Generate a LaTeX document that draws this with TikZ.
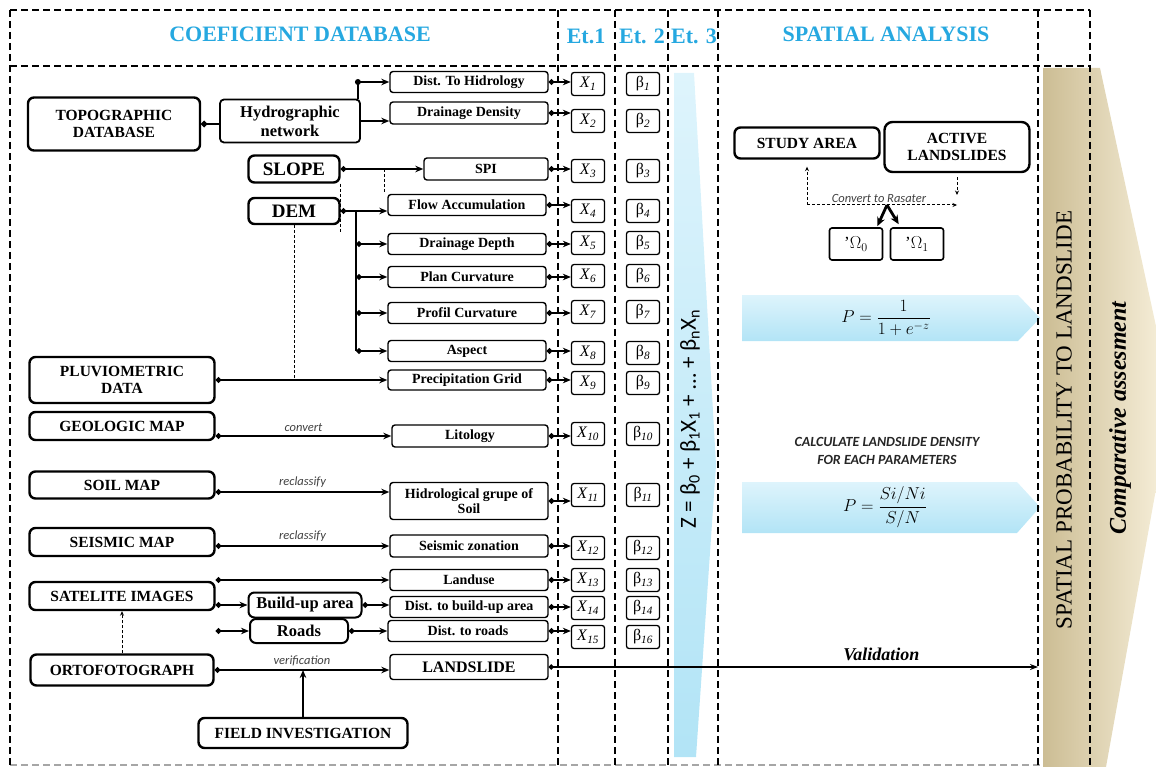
\documentclass[tikz,border=0pt]{standalone}
\usepackage{amsmath}
\usepackage{fontspec}
\setmainfont{Liberation Serif}
\setsansfont{Carlito}
\usepackage{tikz}
\usetikzlibrary{arrows.meta,calc}

\definecolor{headblue}{RGB}{38,168,224}
\definecolor{paleblue}{RGB}{222,244,252}
\definecolor{skyblue}{RGB}{178,228,246}
\definecolor{tandark}{RGB}{204,189,148}
\definecolor{tanlight}{RGB}{249,242,222}

\newcommand{\xv}[1]{\textit{X}\textsubscript{\textit{#1}}}
\newcommand{\bv}[1]{β\textsubscript{\textit{#1}}}

\begin{document}
\begin{tikzpicture}[x=1pt, y=-1pt,
  >={Stealth[length=8pt,width=6.5pt]},
  bigbox/.style={draw, line width=2.4pt, rounded corners=6pt, minimum width=185pt, minimum height=28pt, align=center, inner sep=1pt, font=\fontsize{15.5}{17}\selectfont\bfseries},
  midbox/.style={draw, line width=1.4pt, rounded corners=3pt, minimum width=158pt, minimum height=21pt, align=center, inner sep=1pt, font=\fontsize{14}{15}\selectfont\bfseries},
  varbox/.style={draw, line width=1.3pt, rounded corners=2.5pt, minimum width=33pt, minimum height=23pt, inner sep=0pt, font=\fontsize{16}{16}\selectfont},
  headtxt/.style={text=headblue, font=\fontsize{22}{24}\selectfont\bfseries},
  divline/.style={line width=2.2pt, dash pattern=on 7pt off 4pt},
  link/.style={line width=2pt, arrows={Circle[length=5.5pt]-Stealth[length=8pt,width=6.5pt]}},
  arrline/.style={line width=2pt, ->},
  dashlink/.style={line width=1pt, dash pattern=on 3pt off 2pt, >={Stealth[length=4.5pt,width=4pt]}},
  fatarrow/.style={line width=2.8pt, -{Stealth[length=9pt,width=8pt]}},
  notetxt/.style={font=\sffamily\itshape\fontsize{12.5}{13}\selectfont, text=black!75},
  junction/.style={circle, fill, inner sep=0pt, minimum size=6pt},
]
\useasboundingbox (0,0) rectangle (1156,767);

% background arrows
\begin{scope}
  \clip (0,0) rectangle (1156,767);
  \shade[left color=tandark, right color=tanlight] (1043,68) -- (1100,68) -- (1172,400) -- (1106,767) -- (1043,767) -- cycle;
\end{scope}
\shade[top color=paleblue, bottom color=skyblue] (674,73) -- (694,73) -- (716,465) -- (696,757) -- (674,757) -- cycle;
\shade[top color=paleblue, bottom color=skyblue] (742,295) -- (1018,295) -- (1040,318) -- (1018,341) -- (742,341) -- cycle;
\shade[top color=paleblue, bottom color=skyblue] (742,482) -- (1017,482) -- (1040,507) -- (1017,533) -- (742,533) -- cycle;

% frame
\draw[divline] (10,10) -- (1090,10);
\draw[divline] (10,66) -- (1090,66);
\draw[divline, black!35, line width=1.5pt] (10,765) -- (1040,765);
\foreach \x [count=\i] in {10,558,615,668,718,1038,1090}{
  \draw[divline] (\x,10) -- (\x,767);
  \coordinate (v\i) at (\x,66);
}

\node[headtxt] (hcoef) at (300,34) {COEFICIENT DATABASE};
\node[headtxt] (het1) at (586,36) {Et.1};
\node[headtxt] (het2) at (642,36) {Et. 2};
\node[headtxt] (het3) at (694,36) {Et. 3};
\node[headtxt] (hspat) at (886,34) {SPATIAL ANALYSIS};

% data sources
\node[bigbox, minimum width=172pt, minimum height=53pt] (topo) at (114,124) {TOPOGRAPHIC\\DATABASE};
\node[bigbox, line width=1.8pt, minimum width=140pt, minimum height=43pt, rounded corners=4pt, font=\fontsize{16.5}{19}\selectfont\bfseries] (hydro) at (290,121) {Hydrographic\\network};
\node[bigbox, minimum width=91pt, minimum height=27pt, font=\fontsize{19}{20}\selectfont\bfseries] (slope) at (294,169) {SLOPE};
\node[bigbox, minimum width=91pt, minimum height=26pt, font=\fontsize{19}{20}\selectfont\bfseries] (dem) at (294,211) {DEM};
\node[bigbox, minimum height=46pt] (pluv) at (122,380) {PLUVIOMETRIC\\DATA};
\node[bigbox] (geo) at (122,426) {GEOLOGIC MAP};
\node[bigbox, minimum height=27pt] (soil) at (122,485) {SOIL MAP};
\node[bigbox] (seism) at (122,542) {SEISMIC MAP};
\node[bigbox] (sat) at (122,596) {SATELITE IMAGES};
\node[bigbox, line width=2pt, minimum width=113pt, minimum height=25pt, font=\fontsize{16.5}{18}\selectfont\bfseries] (build) at (305,605) {Build-up area};
\node[bigbox, line width=2pt, minimum width=98pt, minimum height=24pt, font=\fontsize{16.5}{18}\selectfont\bfseries] (roads) at (299,631) {Roads};
\node[bigbox, minimum width=183pt, minimum height=31pt] (orto) at (122,670) {ORTOFOTOGRAPH};
\node[bigbox, minimum width=209pt, minimum height=30pt] (field) at (303,733) {FIELD INVESTIGATION};

% factor maps
\node[midbox] (dhid) at (469,82) {Dist. To Hidrology};
\node[midbox, minimum height=22pt] (ddens) at (469,113) {Drainage Density};
\node[midbox, minimum width=124pt, minimum height=22pt] (spi) at (486,169) {SPI};
\node[midbox] (flow) at (467,205) {Flow Accumulation};
\node[midbox] (ddep) at (467,244) {Drainage Depth};
\node[midbox] (plan) at (467,277) {Plan Curvature};
\node[midbox] (prof) at (467,313) {Profil Curvature};
\node[midbox] (asp) at (467,351) {Aspect};
\node[midbox, minimum height=20pt] (prec) at (467,380) {Precipitation Grid};
\node[midbox, minimum width=156pt, minimum height=22pt] (lito) at (470,436) {Litology};
\node[midbox, minimum height=37pt] (hgs) at (469,501) {Hidrological grupe of\\Soil};
\node[midbox, minimum height=22pt] (szon) at (469,546) {Seismic zonation};
\node[midbox] (luse) at (469,580) {Landuse};
\node[midbox] (dbuild) at (469,607) {Dist. to build-up area};
\node[midbox, minimum width=160pt] (droad) at (468,631) {Dist. to roads};
\node[midbox, minimum height=25pt, font=\fontsize{16}{17}\selectfont\bfseries] (lslide) at (469,667) {LANDSLIDE};

% variables and coefficients
\foreach \n/\lab/\y in {1/1/84,2/2/121,3/3/171,4/4/211,5/5/243,6/6/276,7/7/312,8/8/353,9/9/383,10/10/434,11/11/495,12/12/548,13/13/580,14/14/608,15/16/637}{
  \node[varbox] (x\n) at (588,\y) {\xv{\n}};
  \node[varbox] (b\n) at (643,\y) {\bv{\lab}};
}
\foreach \m/\n in {dhid/1,ddens/2,spi/3,flow/4,ddep/5,plan/6,prof/7,asp/8,prec/9,lito/10,hgs/11,szon/12,luse/13,dbuild/14,droad/15}
  \draw[link] (\m.east) -- (\m.east -| x\n.west);

% connectors on the left
\draw[line width=2.6pt, arrows={Circle[length=6pt]-}] (topo.east) -- (topo.east -| hydro.west);
\draw[arrline] ($(hydro.north east)+(-3,0)$) |- node[pos=0.5, junction]{} (dhid.west);
\draw[arrline] (hydro.east) -- (hydro.east -| ddens.west);
\draw[link] (slope.east) -- (slope.east -| spi.west);
\draw[dashlink] (slope.south east) -- (slope.south east |- ddep.north);
\draw[dashlink] ($(slope.east -| flow.north west)+(-3,0)$) -- ($(flow.north west)+(-3,0)$);
\draw[link] (dem.east) -- (dem.east -| flow.west);
\coordinate (bus) at ($(flow.west)+(-31,0)$);
\draw[line width=2pt] (bus |- dem.east) -- (bus |- asp.west);
\foreach \m in {ddep,plan,prof,asp}
  \draw[link] (bus |- \m.west) -- (\m.west);
\draw[dashlink] (dem.south) -- (dem.south |- prec.west);
\draw[link] (pluv.east) -- (pluv.east -| prec.west);
\draw[link] (lito.west -| geo.east) -- node[notetxt, above]{convert} (lito.west);
\draw[link] ($(soil.east)+(0,7)$) coordinate (soilout) -- node[notetxt, above]{reclassify} (soilout -| hgs.west);
\draw[link] (szon.west -| seism.east) -- node[notetxt, above]{reclassify} (szon.west);
\draw[link] (luse.west -| sat.east) -- (luse.west);
\draw[link] (build.west -| sat.east) -- (build.west);
\draw[link] (roads.west -| sat.east) -- (roads.west);
\draw[link] (build.east) -- (build.east -| dbuild.west);
\draw[link] (roads.east) -- (roads.east -| droad.west);
\draw[dashlink, ->] (orto.north) -- (sat.south);
\draw[link] (orto.east) -- node[notetxt, above]{verification} (orto.east -| lslide.west);
\draw[arrline, line width=2.6pt] (field.north) -- (field.north |- orto.east);
\draw[line width=1.6pt, arrows={Circle[length=5pt]-Stealth[length=8pt,width=6pt]}] (lslide.east) -- node[pos=0.68, above=2pt, font=\bfseries\itshape\fontsize{18}{20}\selectfont]{Validation} (lslide.east -| v6);

% spatial analysis
\node[bigbox, minimum width=145pt, minimum height=31pt] (study) at (807,143) {STUDY AREA};
\node[bigbox, minimum width=145pt, minimum height=50pt, rounded corners=8pt] (active) at (957,147) {ACTIVE\\LANDSLIDES};
\coordinate (cv) at (887,205);
\draw[dashlink, ->] (cv -| study.south) -- ($(study.south)+(0,7)$);
\draw[dashlink, ->] (cv -| study.south) -- node[notetxt, above=-1pt, pos=0.48]{Convert to Rasater} (cv -| active.south);
\draw[dashlink, ->] ($(active.south)+(0,4)$) -- ($(cv -| active.south)+(0,-10)$);
\node[varbox, line width=1.6pt, minimum width=53pt, minimum height=32pt, font=\fontsize{17}{17}\selectfont] (om0) at (856,244) {'$\Omega_0$};
\node[varbox, line width=1.6pt, minimum width=53pt, minimum height=32pt, font=\fontsize{17}{17}\selectfont] (om1) at (917,244) {'$\Omega_1$};
\draw[fatarrow] (cv) -- ($(om0.north east)+(-6,-1)$);
\draw[fatarrow] (cv) -- ($(om1.north west)+(9,-3)$);
\node[font=\fontsize{17}{17}\selectfont] (plog) at (886,318) {$P=\dfrac{1}{1+e^{-z}}$};
\node[align=center, text=black!85, font=\sffamily\bfseries\itshape\fontsize{14}{18}\selectfont] (dens) at (887,451) {CALCULATE LANDSLIDE DENSITY\\FOR EACH PARAMETERS};
\node[font=\fontsize{17}{17}\selectfont] (pdens) at (885,507) {$P=\dfrac{Si/Ni}{S/N}$};

% rotated texts
\node[rotate=90, font=\sffamily\fontsize{23}{23}\selectfont] (zeq) at (690,419) {Z = β\textsubscript{0} + β\textsubscript{1}X\textsubscript{1} + … + β\textsubscript{n}X\textsubscript{n}};
\node[rotate=90, font=\fontsize{23}{23}\selectfont] (spl) at (1064,420) {SPATIAL PROBABILITY TO LANDSLIDE};
\node[rotate=90, font=\bfseries\itshape\fontsize{24}{24}\selectfont] (comp) at (1120,418) {Comparative assesment};
\end{tikzpicture}
\end{document}
